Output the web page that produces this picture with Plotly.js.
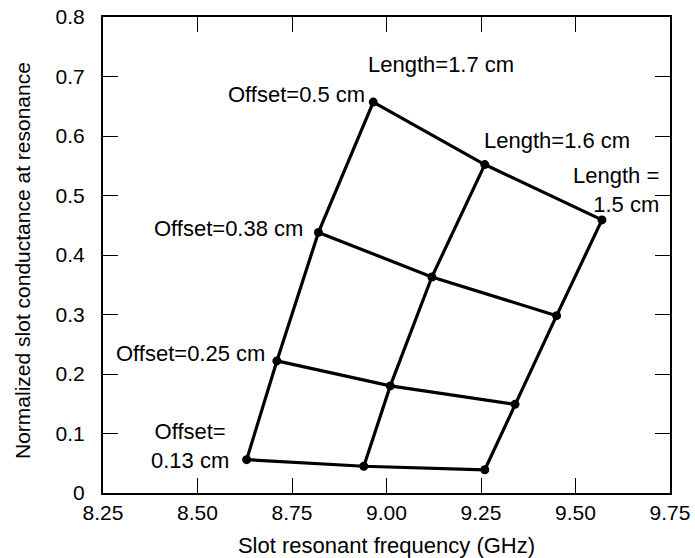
<!DOCTYPE html>
<html>
<head>
<meta charset="utf-8">
<script src="https://cdn.plot.ly/plotly-3.0.1.min.js"></script>
<style>html,body{margin:0;padding:0;background:#fff;}#chart{width:695px;height:558px;}</style>
</head>
<body>
<div id="chart"></div>
<script>
// Slot offsets (rows) and slot lengths (columns)
const offsets = [0.13, 0.25, 0.38, 0.5];
const lengths = [1.7, 1.6, 1.5];
// Resonant frequency (GHz): freq[offsetIndex][lengthIndex]
const freq013 = [8.63, 8.94, 9.26];
const freq025 = [8.71, 9.01, 9.34];
const freq038 = [8.82, 9.12, 9.45];
const freq050 = [8.965, 9.26, 9.57];
// Normalized conductance at resonance
const cond013 = [0.056, 0.045, 0.039];
const cond025 = [0.222, 0.180, 0.149];
const cond038 = [0.438, 0.363, 0.298];
const cond050 = [0.657, 0.552, 0.459];

const freq = [freq013, freq025, freq038, freq050];
const cond = [cond013, cond025, cond038, cond050];

const xTickVals = [8.25, 8.5, 8.75, 9.0, 9.25, 9.5, 9.75];
const xTickText = ["8.25", "8.50", "8.75", "9.00", "9.25", "9.50", "9.75"];
const yTickVals = [0, 0.1, 0.2, 0.3, 0.4, 0.5, 0.6, 0.7, 0.8];
const yTickText = ["0", "0.1", "0.2", "0.3", "0.4", "0.5", "0.6", "0.7", "0.8"];
const xTitle = 'Slot resonant frequency (GHz)';
const yTitle = 'Normalized slot conductance at resonance';

// Labels
const labelText = ["Length=1.7 cm", "Length=1.6 cm", "Length =<br>1.5 cm",
  "Offset=0.5 cm", "Offset=0.38 cm", "Offset=0.25 cm", "Offset=<br>0.13 cm"];
const labelX = [9.144, 9.451, 9.726, 8.948, 8.784, 8.684, 8.48];
const labelY = [0.721, 0.593, 0.509, 0.669, 0.445, 0.235, 0.079];

const traces = [];
// Lines of constant offset
offsets.forEach((o, i) => {
  traces.push({
    x: freq[i], y: cond[i], type: 'scatter', mode: 'lines+markers',
    line: {color: '#000', width: 3.2}, marker: {color: '#000', size: 9},
    hoverinfo: 'x+y', showlegend: false
  });
});
// Lines of constant length
lengths.forEach((l, j) => {
  traces.push({
    x: freq.map(r => r[j]), y: cond.map(r => r[j]), type: 'scatter', mode: 'lines',
    line: {color: '#000', width: 3.2}, hoverinfo: 'x+y', showlegend: false
  });
});

const anchors = ['center', 'center', 'right', 'right', 'right', 'right', 'center'];
const aligns = ['center', 'center', 'right', 'right', 'right', 'right', 'center'];
const annotations = labelText.map((t, k) => ({
  x: labelX[k], y: labelY[k], xref: 'x', yref: 'y', text: t, showarrow: false,
  xanchor: anchors[k], yanchor: 'middle', align: aligns[k],
  font: {family: 'Liberation Sans, Arial, sans-serif', size: 22, color: '#000'}
}));
// Y-axis title placed as rotated text left of the tick labels
annotations.push({
  x: 0, y: 0.5, xref: 'paper', yref: 'paper', text: yTitle, showarrow: false,
  textangle: -90, xanchor: 'center', yanchor: 'middle', xshift: -81, yshift: -6,
  font: {family: 'Liberation Sans, Arial, sans-serif', size: 21, color: '#000'}
});

const layout = {
  width: 695, height: 558,
  margin: {l: 103, r: 25, t: 17, b: 65},
  paper_bgcolor: '#fff', plot_bgcolor: '#fff',
  font: {family: 'Liberation Sans, Arial, sans-serif', color: '#000'},
  showlegend: false,
  xaxis: {
    range: [8.25, 9.75], tickvals: xTickVals, ticktext: xTickText,
    ticks: 'inside', ticklen: 15, tickwidth: 1, tickcolor: '#000',
    showline: true, linecolor: '#000', linewidth: 2, mirror: 'ticks',
    showgrid: false, zeroline: false,
    tickfont: {size: 21, color: '#000'},
    title: {text: xTitle, font: {size: 22, color: '#000'}, standoff: 19}
  },
  yaxis: {
    range: [0, 0.8], tickvals: yTickVals, ticktext: yTickText,
    ticks: 'inside', ticklen: 15, tickwidth: 1, tickcolor: '#000',
    showline: true, linecolor: '#000', linewidth: 2, mirror: 'ticks',
    showgrid: false, zeroline: false, ticklabelstandoff: 12,
    tickfont: {size: 21, color: '#000'}
  },
  annotations: annotations
};

Plotly.newPlot('chart', traces, layout, {displayModeBar: false, staticPlot: true});
</script>
</body>
</html>
